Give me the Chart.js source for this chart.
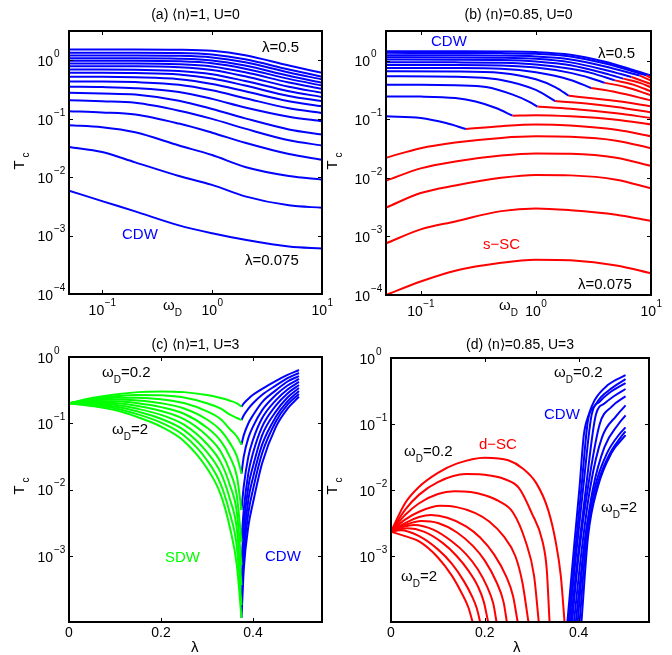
<!DOCTYPE html>
<html>
<head>
<meta charset="utf-8">
<script src="https://cdn.jsdelivr.net/npm/chart.js@4.4.1/dist/chart.umd.min.js"></script>
<style>
    html, body { margin: 0; padding: 0; background: #fff; }
    #wrap { position: relative; width: 672px; height: 655px; }
    #wrap canvas { position: absolute; left: 0; top: 0; }
</style>
</head>
<body>
<div id="wrap">
    <canvas id="panelA" width="672" height="655"></canvas>
    <canvas id="panelB" width="672" height="655"></canvas>
    <canvas id="panelC" width="672" height="655"></canvas>
    <canvas id="panelD" width="672" height="655"></canvas>
</div>
<script>
'use strict';

// ---- (a) <n>=1, U=0 : Tc vs omega_D, one curve per lambda (0.075 .. 0.5) ----
const lambdaA = [0.075, 0.1, 0.125, 0.15, 0.175, 0.2, 0.225, 0.25, 0.275, 0.3, 0.325, 0.35, 0.375, 0.4, 0.425, 0.45, 0.475, 0.5];
const omegaA = [0.05, 0.1, 0.2, 0.5, 1, 2, 5, 10];
const tcCdwA = [
    [0.0059, 0.0039, 0.0026, 0.0015, 0.0011, 0.00085, 0.00065, 0.0006],
    [0.033, 0.027, 0.018, 0.0105, 0.0074, 0.0047, 0.0033, 0.0030],
    [0.078, 0.072, 0.059, 0.035, 0.024, 0.015, 0.0105, 0.0091],
    [0.135, 0.129, 0.119, 0.083, 0.058, 0.039, 0.025, 0.020],
    [0.209, 0.20, 0.188, 0.138, 0.10, 0.068, 0.043, 0.035],
    [0.279, 0.272, 0.261, 0.204, 0.148, 0.102, 0.066, 0.054],
    [0.355, 0.350, 0.336, 0.289, 0.220, 0.157, 0.109, 0.091],
    [0.437, 0.437, 0.426, 0.385, 0.308, 0.226, 0.152, 0.126],
    [0.525, 0.525, 0.515, 0.479, 0.397, 0.297, 0.200, 0.164],
    [0.617, 0.617, 0.610, 0.577, 0.492, 0.372, 0.247, 0.200],
    [0.700, 0.700, 0.692, 0.662, 0.582, 0.445, 0.298, 0.237],
    [0.798, 0.798, 0.798, 0.766, 0.689, 0.535, 0.355, 0.279],
    [0.891, 0.891, 0.891, 0.865, 0.791, 0.627, 0.420, 0.327],
    [0.989, 0.989, 0.989, 0.969, 0.896, 0.723, 0.484, 0.372],
    [1.094, 1.094, 1.094, 1.074, 1.002, 0.818, 0.546, 0.416],
    [1.219, 1.219, 1.219, 1.202, 1.130, 0.935, 0.624, 0.474],
    [1.355, 1.355, 1.355, 1.343, 1.268, 1.049, 0.700, 0.527],
    [1.545, 1.545, 1.545, 1.531, 1.462, 1.227, 0.818, 0.615],
];

// ---- (b) <n>=0.85, U=0 : low lambda curves are s-SC everywhere ----
const tcScLowB = [
    [0.0001, 0.00017, 0.00026, 0.000355, 0.0004, 0.00039, 0.00032, 0.000235],
    [0.00076, 0.00132, 0.0018, 0.0027, 0.0030, 0.0028, 0.00235, 0.00184],
    [0.0031, 0.0055, 0.0074, 0.010, 0.0112, 0.011, 0.0093, 0.0066],
    [0.0089, 0.0145, 0.019, 0.024, 0.026, 0.0257, 0.022, 0.016],
    [0.022, 0.032, 0.040, 0.048, 0.051, 0.050, 0.043, 0.032],
];
// higher lambda curves: CDW branch up to the crossing, then s-SC branch
const omegaCdwB = [
    [0.05, 0.1, 0.166, 0.247],
    [0.05, 0.1, 0.2, 0.3, 0.45, 0.628],
    [0.05, 0.1, 0.2, 0.37, 0.63, 0.87, 1.03],
    [0.05, 0.2, 0.5, 1, 1.47],
    [0.05, 0.2, 0.5, 1, 1.5, 1.93],
    [0.05, 0.2, 0.5, 1, 2, 3.02],
    [0.05, 0.2, 0.5, 1, 2, 3, 3.97],
    [0.05, 0.2, 0.5, 1, 2, 3, 4.85],
    [0.05, 0.2, 0.5, 1, 2, 4, 5.73],
    [0.05, 0.2, 0.5, 1, 2, 4, 6.77],
    [0.05, 0.2, 0.5, 1, 2, 4, 8],
    [0.05, 0.2, 0.5, 1, 2, 4, 9.1],
    [0.05, 0.2, 0.5, 1, 2, 4, 7, 10],
];
const tcCdwB = [
    [0.112, 0.105, 0.086, 0.068],
    [0.245, 0.243, 0.229, 0.200, 0.155, 0.115],
    [0.389, 0.389, 0.380, 0.355, 0.263, 0.200, 0.164],
    [0.540, 0.531, 0.468, 0.316, 0.204],
    [0.656, 0.652, 0.617, 0.479, 0.347, 0.251],
    [0.750, 0.746, 0.724, 0.631, 0.468, 0.341],
    [0.843, 0.841, 0.822, 0.759, 0.617, 0.501, 0.417],
    [0.935, 0.933, 0.918, 0.861, 0.724, 0.617, 0.460],
    [1.04, 1.037, 1.023, 0.966, 0.832, 0.603, 0.492],
    [1.138, 1.135, 1.122, 1.072, 0.933, 0.692, 0.526],
    [1.233, 1.230, 1.219, 1.175, 1.047, 0.794, 0.555],
    [1.355, 1.352, 1.343, 1.303, 1.175, 0.891, 0.562],
    [1.442, 1.439, 1.429, 1.396, 1.259, 0.955, 0.692, 0.555],
];
const omegaScB = [
    [0.247, 0.5, 1, 2, 5, 10],
    [0.628, 1, 2, 5, 10],
    [1.03, 2, 5, 10],
    [1.47, 3, 5, 10],
    [1.93, 5, 10],
    [3.02, 5, 10],
    [3.97, 6, 10],
    [4.85, 7, 10],
    [5.73, 8, 10],
    [6.77, 10],
    [8, 10],
    [9.1, 10],
    [],
];
const tcScB = [
    [0.068, 0.076, 0.081, 0.078, 0.066, 0.051],
    [0.115, 0.117, 0.112, 0.098, 0.081],
    [0.164, 0.151, 0.126, 0.105],
    [0.204, 0.182, 0.162, 0.131],
    [0.251, 0.204, 0.166],
    [0.341, 0.288, 0.209],
    [0.417, 0.355, 0.257],
    [0.460, 0.389, 0.299],
    [0.492, 0.417, 0.350],
    [0.526, 0.398],
    [0.555, 0.455],
    [0.562, 0.506],
    [],
];

// ---- (c) <n>=1, U=3 : Tc vs lambda, omega_D = 0.2 .. 2 ----
const omegaD = [0.2, 0.4, 0.6, 0.8, 1.0, 1.2, 1.4, 1.6, 1.8, 2.0];
const lambdaSdwC = [0, 0.05, 0.1, 0.15, 0.2, 0.25, 0.3, 0.33, 0.35, 0.365, 0.375];
const tcSdwC = [
    [0.2, 0.240, 0.272, 0.295, 0.302, 0.295, 0.266, 0.240, 0.219, 0.200, 0.178],
    [0.2, 0.233, 0.256, 0.268, 0.264, 0.244, 0.200, 0.166, 0.135, 0.120, 0.112],
    [0.2, 0.225, 0.242, 0.243, 0.230, 0.202, 0.151, 0.115, 0.0813, 0.0631, 0.0479],
    [0.2, 0.219, 0.228, 0.221, 0.201, 0.167, 0.114, 0.0776, 0.0501, 0.0316, 0.0174],
    [0.2, 0.212, 0.214, 0.200, 0.175, 0.139, 0.0857, 0.0537, 0.0309, 0.0158, 0.0049],
    [0.2, 0.206, 0.202, 0.182, 0.153, 0.115, 0.0646, 0.0372, 0.0186, 0.0079, 0.00162],
    [0.2, 0.200, 0.190, 0.165, 0.134, 0.0951, 0.0486, 0.0257, 0.0115, 0.00447, 0.00072],
    [0.2, 0.194, 0.179, 0.150, 0.117, 0.0787, 0.0366, 0.0178, 0.00708, 0.00251, 0.00036],
    [0.2, 0.188, 0.169, 0.136, 0.102, 0.0652, 0.0276, 0.0120, 0.00427, 0.00135, 0.00018],
    [0.2, 0.182, 0.158, 0.123, 0.0891, 0.0537, 0.0209, 0.00832, 0.00263, 0.00071, 0.000115],
];
const lambdaCdwC = [0.375, 0.38, 0.39, 0.40, 0.42, 0.45, 0.475, 0.5];
const tcCdwC = [
    [0.178, 0.200, 0.234, 0.269, 0.331, 0.437, 0.537, 0.637],
    [0.112, 0.132, 0.166, 0.200, 0.269, 0.372, 0.479, 0.573],
    [0.0479, 0.0661, 0.100, 0.132, 0.209, 0.316, 0.427, 0.516],
    [0.0174, 0.0316, 0.0603, 0.0891, 0.158, 0.269, 0.372, 0.466],
    [0.0049, 0.0112, 0.0316, 0.0562, 0.120, 0.224, 0.324, 0.420],
    [0.00162, 0.005, 0.0178, 0.0355, 0.0891, 0.186, 0.282, 0.378],
    [0.00072, 0.00282, 0.0112, 0.0224, 0.0661, 0.151, 0.245, 0.340],
    [0.00036, 0.00158, 0.00708, 0.0151, 0.0479, 0.126, 0.214, 0.307],
    [0.00018, 0.001, 0.00447, 0.010, 0.0355, 0.107, 0.191, 0.277],
    [0.000115, 0.00063, 0.00282, 0.0063, 0.0251, 0.0891, 0.166, 0.251],
];

// ---- (d) <n>=0.85, U=3 ----
const lambdaScD = [
    [0, 0.03, 0.06, 0.1, 0.14, 0.2, 0.25, 0.28, 0.31, 0.335, 0.351, 0.362, 0.37],
    [0, 0.03, 0.06, 0.1, 0.16, 0.21, 0.24, 0.273, 0.30, 0.323, 0.332, 0.338],
    [0, 0.03, 0.06, 0.1, 0.135, 0.17, 0.2, 0.23, 0.26, 0.287, 0.305, 0.315],
    [0, 0.03, 0.06, 0.105, 0.14, 0.18, 0.21, 0.24, 0.265, 0.28, 0.293],
    [0, 0.03, 0.06, 0.085, 0.12, 0.16, 0.19, 0.22, 0.245, 0.26, 0.27],
    [0, 0.03, 0.065, 0.1, 0.14, 0.175, 0.2, 0.225, 0.24, 0.247],
    [0, 0.025, 0.05, 0.09, 0.13, 0.16, 0.185, 0.205, 0.218, 0.225],
    [0, 0.035, 0.07, 0.11, 0.14, 0.165, 0.185, 0.198, 0.207],
    [0, 0.02, 0.06, 0.1, 0.13, 0.155, 0.172, 0.183, 0.19],
    [0, 0.03, 0.06, 0.1, 0.13, 0.15, 0.165, 0.174],
];
const tcScD = [
    [0.00234, 0.0063, 0.0112, 0.0182, 0.0251, 0.0309, 0.0282, 0.0214, 0.0126, 0.005, 0.00166, 0.0005, 0.0001],
    [0.00234, 0.005, 0.00851, 0.0132, 0.0174, 0.0166, 0.0148, 0.0107, 0.00447, 0.00166, 0.00063, 0.0001],
    [0.00234, 0.00417, 0.0063, 0.00871, 0.00955, 0.00933, 0.00832, 0.00676, 0.00457, 0.00166, 0.0005, 0.0001],
    [0.00234, 0.00355, 0.00468, 0.00575, 0.0055, 0.00447, 0.00331, 0.002, 0.001, 0.0004, 0.0001],
    [0.00234, 0.00316, 0.00389, 0.00417, 0.0038, 0.00282, 0.00191, 0.00105, 0.0005, 0.00025, 0.0001],
    [0.00234, 0.00295, 0.00339, 0.00316, 0.00229, 0.00141, 0.00085, 0.0004, 0.0002, 0.0001],
    [0.00234, 0.00275, 0.00295, 0.00251, 0.00166, 0.00107, 0.00063, 0.00034, 0.00019, 0.0001],
    [0.00234, 0.00263, 0.00234, 0.00158, 0.001, 0.0006, 0.00035, 0.0002, 0.0001],
    [0.00234, 0.00245, 0.002, 0.00126, 0.00076, 0.00042, 0.00025, 0.00016, 0.0001],
    [0.00234, 0.002, 0.00166, 0.00095, 0.0005, 0.00028, 0.000166, 0.0001],
];
const lambdaCdwD = [
    [0.376, 0.391, 0.402, 0.411, 0.422, 0.434, 0.462, 0.5],
    [0.378, 0.393, 0.406, 0.42, 0.435, 0.448, 0.47, 0.5],
    [0.380, 0.395, 0.41, 0.428, 0.445, 0.465, 0.5],
    [0.383, 0.40, 0.415, 0.437, 0.455, 0.475, 0.5],
    [0.386, 0.40, 0.42, 0.445, 0.47, 0.5],
    [0.390, 0.405, 0.425, 0.45, 0.48, 0.5],
    [0.394, 0.41, 0.43, 0.455, 0.485, 0.5],
    [0.398, 0.412, 0.435, 0.46, 0.485, 0.5],
    [0.402, 0.416, 0.438, 0.465, 0.49, 0.5],
    [0.406, 0.42, 0.441, 0.47, 0.5],
];
const tcCdwD = [
    [0.0001, 0.00158, 0.0112, 0.0676, 0.141, 0.229, 0.389, 0.550],
    [0.0001, 0.00126, 0.011, 0.115, 0.191, 0.257, 0.347, 0.479],
    [0.0001, 0.00112, 0.0112, 0.141, 0.219, 0.295, 0.417],
    [0.0001, 0.00126, 0.01, 0.141, 0.204, 0.263, 0.339],
    [0.0001, 0.001, 0.0112, 0.1, 0.182, 0.263],
    [0.0001, 0.001, 0.0112, 0.0631, 0.132, 0.191],
    [0.0001, 0.00112, 0.01, 0.0447, 0.1, 0.135],
    [0.0001, 0.00141, 0.0112, 0.0355, 0.0676, 0.0891],
    [0.0001, 0.00158, 0.0107, 0.0339, 0.0631, 0.0776],
    [0.0001, 0.00195, 0.0112, 0.0363, 0.0676],
];

const BLUE = '#0000ff';
const RED = '#ff0000';
const GREEN = '#00ff00';
const FONT = '"Liberation Sans", Arial, Helvetica, sans-serif';

function series(xs, ys, color) {
    return {
        data: xs.map((x, i) => ({ x, y: ys[i] })),
        borderColor: color,
        borderWidth: 2,
        pointRadius: 0,
        fill: false,
        cubicInterpolationMode: 'monotone',
    };
}

// text made of plain and subscript pieces, left edge at x, vertical centre at y
function richText(ctx, x, y, parts, size) {
    let cx = x;
    parts.forEach(p => {
        const s = p.sub ? Math.round(size * 0.68) : size;
        ctx.font = `${s}px ${FONT}`;
        ctx.fillText(p.t, cx, p.sub ? y + 7 : y);
        cx += ctx.measureText(p.t).width;
    });
}

const W = t => [{ t: '\u03c9' }, { t: 'D', sub: true }, { t }];

// Matlab-like box: inward ticks, powers of ten, labels and notes
const matlabAxes = {
    id: 'matlabAxes',
    afterDraw(chart, args, o) {
        const { ctx, chartArea: a } = chart;
        const sx = chart.scales.x;
        const sy = chart.scales.y;
        ctx.save();
        ctx.fillStyle = '#000';
        ctx.strokeStyle = '#000';
        ctx.textBaseline = 'middle';

        ctx.lineWidth = 1;
        ctx.beginPath();
        o.xTicks.forEach(t => {
            const px = Math.round(sx.getPixelForValue(t.v)) + 0.5;
            ctx.moveTo(px, a.bottom); ctx.lineTo(px, a.bottom - 4);
            ctx.moveTo(px, a.top); ctx.lineTo(px, a.top + 4);
        });
        o.yTicks.forEach(t => {
            const py = Math.round(sy.getPixelForValue(t.v)) + 0.5;
            ctx.moveTo(a.left, py); ctx.lineTo(a.left + 4, py);
            ctx.moveTo(a.right, py); ctx.lineTo(a.right - 4, py);
        });
        ctx.stroke();

        ctx.lineWidth = 2;
        ctx.strokeRect(a.left, a.top, a.right - a.left, a.bottom - a.top);

        // tick labels
        o.xTicks.forEach(t => {
            const px = sx.getPixelForValue(t.v);
            if (t.exp !== undefined) {
                ctx.font = `14px ${FONT}`;
                const wb = ctx.measureText('10').width;
                ctx.font = `10px ${FONT}`;
                const we = ctx.measureText(t.exp).width;
                const left = px - (wb + we) / 2;
                ctx.textAlign = 'left';
                ctx.font = `14px ${FONT}`;
                ctx.fillText('10', left, a.bottom + 17);
                ctx.font = `10px ${FONT}`;
                ctx.fillText(t.exp, left + wb + 0.5, a.bottom + 9);
            } else if (t.text) {
                ctx.textAlign = 'center';
                ctx.font = `14px ${FONT}`;
                ctx.fillText(t.text, px, a.bottom + 11);
            }
        });
        o.yTicks.forEach(t => {
            if (t.exp === undefined) return;
            const py = sy.getPixelForValue(t.v);
            const edge = a.left - 16;
            ctx.font = `14px ${FONT}`;
            ctx.textAlign = 'right';
            ctx.fillText('10', edge, py + 2);
            ctx.font = `10px ${FONT}`;
            ctx.textAlign = 'left';
            ctx.fillText(t.exp, edge + 1, py - 6);
        });

        // title
        ctx.textAlign = 'center';
        ctx.font = `14px ${FONT}`;
        ctx.fillText(o.title, (a.left + a.right) / 2, o.titleY);

        // x axis name
        ctx.textAlign = 'left';
        richText(ctx, o.xName.x, o.xName.y, o.xName.parts, 15);

        // y axis name T_c, rotated
        ctx.save();
        ctx.translate(o.yName.x, o.yName.y);
        ctx.rotate(-Math.PI / 2);
        ctx.textAlign = 'center';
        ctx.font = `15px ${FONT}`;
        ctx.fillText('T', 0, 0);
        ctx.font = `10px ${FONT}`;
        ctx.fillText('c', 10, 6);
        ctx.restore();

        // notes in the plot
        ctx.textAlign = 'left';
        o.notes.forEach(n => {
            ctx.fillStyle = n.color || '#000';
            richText(ctx, n.x, n.y, n.parts, 15);
        });
        ctx.restore();
    }
};

const logTicksX = [
    { v: 0.1, exp: '\u22121' },
    { v: 1, exp: '0' },
    { v: 10, exp: '1' },
];
const logTicksY = [
    { v: 1, exp: '0' },
    { v: 0.1, exp: '\u22121' },
    { v: 0.01, exp: '\u22122' },
    { v: 0.001, exp: '\u22123' },
    { v: 0.0001, exp: '\u22124' },
];
const logTicksYNoBottom = logTicksY.slice(0, 4).concat([{ v: 0.0001 }]);
const linTicksX = [
    { v: 0, text: '0' },
    { v: 0.2, text: '0.2' },
    { v: 0.4, text: '0.4' },
];

function makeChart(id, datasets, padding, xScale, yScale, axes) {
    return new Chart(document.getElementById(id), {
        type: 'line',
        data: { datasets },
        options: {
            responsive: false,
            devicePixelRatio: 1,
            animation: false,
            events: [],
            layout: { padding },
            plugins: {
                legend: { display: false },
                tooltip: { enabled: false },
                matlabAxes: axes,
            },
            scales: {
                x: Object.assign({ display: false, bounds: 'data' }, xScale),
                y: Object.assign({ display: false, bounds: 'data' }, yScale),
            },
        },
        plugins: [matlabAxes],
    });
}

const logOmega = { type: 'logarithmic', min: 0.05, max: 10 };
const logTcTall = { type: 'logarithmic', min: 0.0001, max: 3.2 };
const logTc = { type: 'logarithmic', min: 0.0001, max: 1 };
const linLambda = { type: 'linear', min: 0, max: 0.55 };

// (a)
makeChart('panelA',
    tcCdwA.map(ys => series(omegaA, ys, BLUE)),
    { left: 69, top: 31, right: 350, bottom: 361 },
    logOmega, logTcTall,
    {
        xTicks: logTicksX, yTicks: logTicksY,
        title: '(a) \u27e8n\u27e9=1, U=0', titleY: 15,
        xName: { x: 163, y: 306, parts: [{ t: '\u03c9' }, { t: 'D', sub: true }] },
        yName: { x: 20, y: 165 },
        notes: [
            { x: 262, y: 48, parts: [{ t: '\u03bb=0.5' }] },
            { x: 122, y: 235, parts: [{ t: 'CDW' }], color: BLUE },
            { x: 245, y: 261, parts: [{ t: '\u03bb=0.075' }] },
        ],
    });

// (b)
makeChart('panelB',
    tcScLowB.map(ys => series(omegaA, ys, RED))
        .concat(omegaScB.map((xs, i) => series(xs, tcScB[i], RED)))
        .concat(omegaCdwB.map((xs, i) => series(xs, tcCdwB[i], BLUE))),
    { left: 386, top: 31, right: 21, bottom: 360 },
    logOmega, logTcTall,
    {
        xTicks: logTicksX, yTicks: logTicksY,
        title: '(b) \u27e8n\u27e9=0.85, U=0', titleY: 15,
        xName: { x: 499, y: 306, parts: [{ t: '\u03c9' }, { t: 'D', sub: true }] },
        yName: { x: 333, y: 165 },
        notes: [
            { x: 431, y: 42, parts: [{ t: 'CDW' }], color: BLUE },
            { x: 598, y: 54, parts: [{ t: '\u03bb=0.5' }] },
            { x: 483, y: 245, parts: [{ t: 's\u2212SC' }], color: RED },
            { x: 578, y: 285, parts: [{ t: '\u03bb=0.075' }] },
        ],
    });

// (c)
makeChart('panelC',
    tcSdwC.map(ys => series(lambdaSdwC, ys, GREEN))
        .concat(tcCdwC.map(ys => series(lambdaCdwC, ys, BLUE))),
    { left: 69, top: 357, right: 350, bottom: 33 },
    linLambda, logTc,
    {
        xTicks: linTicksX, yTicks: logTicksYNoBottom,
        title: '(c) \u27e8n\u27e9=1, U=3', titleY: 345,
        xName: { x: 191, y: 648, parts: [{ t: '\u03bb' }] },
        yName: { x: 20, y: 490 },
        notes: [
            { x: 102, y: 373, parts: W('=0.2') },
            { x: 112, y: 430, parts: W('=2') },
            { x: 165, y: 558, parts: [{ t: 'SDW' }], color: GREEN },
            { x: 265, y: 557, parts: [{ t: 'CDW' }], color: BLUE },
        ],
    });

// (d)
makeChart('panelD',
    lambdaScD.map((xs, i) => series(xs, tcScD[i], RED))
        .concat(lambdaCdwD.map((xs, i) => series(xs, tcCdwD[i], BLUE))),
    { left: 391, top: 358, right: 23, bottom: 33 },
    linLambda, logTc,
    {
        xTicks: linTicksX, yTicks: logTicksYNoBottom,
        title: '(d) \u27e8n\u27e9=0.85, U=3', titleY: 345,
        xName: { x: 513, y: 648, parts: [{ t: '\u03bb' }] },
        yName: { x: 333, y: 490 },
        notes: [
            { x: 554, y: 373, parts: W('=0.2') },
            { x: 544, y: 415, parts: [{ t: 'CDW' }], color: BLUE },
            { x: 479, y: 445, parts: [{ t: 'd\u2212SC' }], color: RED },
            { x: 404, y: 452, parts: W('=0.2') },
            { x: 601, y: 508, parts: W('=2') },
            { x: 401, y: 577, parts: W('=2') },
        ],
    });
</script>
</body>
</html>
